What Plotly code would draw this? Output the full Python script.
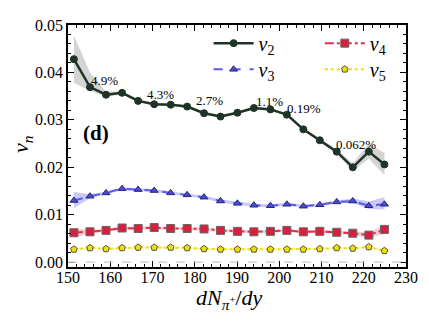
import plotly.graph_objects as go

# multiplicity bins
x = [151.4, 155.2, 159.0, 162.8, 166.6, 170.4, 174.3, 178.2, 182.2, 186.1,
     190.1, 194.0, 197.9, 201.8, 205.7, 209.6, 213.6, 217.4, 221.2, 224.9]

# v2
v2 = [0.0428, 0.0369, 0.0353, 0.0357, 0.0340, 0.0333, 0.0332, 0.0328, 0.0314, 0.0307,
      0.0315, 0.0325, 0.0322, 0.0311, 0.0280, 0.0257, 0.0233, 0.0200, 0.0233, 0.0206]
v2_hi = [0.0478, 0.0400, 0.0360, 0.0360, 0.0343, 0.0336, 0.0335, 0.0331, 0.0317, 0.0310,
         0.0318, 0.0328, 0.0325, 0.0314, 0.0283, 0.0261, 0.0238, 0.0208, 0.0250, 0.0230]
v2_lo = [0.0378, 0.0362, 0.0348, 0.0354, 0.0337, 0.0330, 0.0329, 0.0325, 0.0311, 0.0304,
         0.0312, 0.0322, 0.0319, 0.0308, 0.0277, 0.0253, 0.0228, 0.0192, 0.0218, 0.0184]

# v3
v3 = [0.0130, 0.0139, 0.0146, 0.0155, 0.0153, 0.0151, 0.0146, 0.0142, 0.0137, 0.0129,
      0.0124, 0.0120, 0.0119, 0.0122, 0.0118, 0.0121, 0.0127, 0.0129, 0.0119, 0.0122]
v3_hi = [0.0148, 0.0143, 0.0149, 0.0158, 0.0156, 0.0154, 0.0149, 0.0145, 0.0140, 0.0132,
         0.0127, 0.0123, 0.0122, 0.0125, 0.0121, 0.0124, 0.0130, 0.0134, 0.0128, 0.0137]
v3_lo = [0.0114, 0.0135, 0.0143, 0.0152, 0.0150, 0.0148, 0.0143, 0.0139, 0.0134, 0.0126,
         0.0121, 0.0117, 0.0116, 0.0119, 0.0115, 0.0118, 0.0124, 0.0124, 0.0112, 0.0111]

# v4
v4 = [0.0062, 0.0064, 0.0067, 0.0072, 0.0071, 0.0073, 0.0071, 0.0071, 0.0070, 0.0067,
      0.0065, 0.0064, 0.0065, 0.0067, 0.0064, 0.0065, 0.0063, 0.0061, 0.0057, 0.0069]
v4_hi = [0.0071, 0.0068, 0.0070, 0.0075, 0.0074, 0.0076, 0.0074, 0.0074, 0.0073, 0.0070,
         0.0068, 0.0067, 0.0068, 0.0070, 0.0067, 0.0068, 0.0066, 0.0065, 0.0062, 0.0080]
v4_lo = [0.0052, 0.0060, 0.0064, 0.0069, 0.0068, 0.0070, 0.0068, 0.0068, 0.0067, 0.0064,
         0.0062, 0.0061, 0.0062, 0.0064, 0.0061, 0.0062, 0.0060, 0.0057, 0.0052, 0.0059]

# v5
v5 = [0.0027, 0.0030, 0.0028, 0.0030, 0.0031, 0.0031, 0.0031, 0.0030, 0.0028, 0.0027,
      0.0027, 0.0027, 0.0027, 0.0027, 0.0027, 0.0028, 0.0030, 0.0029, 0.0032, 0.0024]
v5_hi = [0.0029, 0.0032, 0.0030, 0.0032, 0.0033, 0.0033, 0.0033, 0.0032, 0.0030, 0.0029,
         0.0029, 0.0029, 0.0029, 0.0029, 0.0029, 0.0030, 0.0032, 0.0031, 0.0034, 0.0026]
v5_lo = [0.0025, 0.0028, 0.0026, 0.0028, 0.0029, 0.0029, 0.0029, 0.0028, 0.0026, 0.0025,
         0.0025, 0.0025, 0.0025, 0.0025, 0.0025, 0.0026, 0.0028, 0.0027, 0.0030, 0.0022]

# percentage labels along v2
pct_text = ["4.9%", "4.3%", "2.7%", "1.1%", "0.19%", "0.062%"]
pct_x = [158.7, 171.8, 183.6, 197.6, 205.9, 218.2]
pct_y = [0.0382, 0.0354, 0.0341, 0.0339, 0.0324, 0.0248]

SERIF = "Liberation Serif"

series = [
    ("<i>v</i><sub>2</sub>", v2, v2_lo, v2_hi, "#1f3326", "solid", "circle", "#1f3326", "#1f3326", "rgba(170,170,170,0.5)", 7, 2.5, "legend"),
    ("<i>v</i><sub>3</sub>", v3, v3_lo, v3_hi, "#5a5af0", "dash", "triangle-up", "#4b4bd8", "#26266e", "rgba(110,110,240,0.38)", 7, 2, "legend2"),
    ("<i>v</i><sub>4</sub>", v4, v4_lo, v4_hi, "#e0304c", "dashdot", "square", "#d8203e", "#666666", "rgba(240,110,130,0.35)", 8, 2, "legend3"),
    ("<i>v</i><sub>5</sub>", v5, v5_lo, v5_hi, "#eedd10", "dot", "pentagon", "#eedd10", "#555533", "rgba(240,230,80,0.35)", 7, 2, "legend4"),
]

fig = go.Figure()

# bands first
for name, y, lo, hi, col, dash, sym, mfill, medge, band, ms, lw, lg in series:
    fig.add_trace(go.Scatter(x=x + x[::-1], y=hi + lo[::-1], fill="toself",
                             fillcolor=band, line=dict(width=0), mode="lines",
                             showlegend=False, hoverinfo="skip"))

for name, y, lo, hi, col, dash, sym, mfill, medge, band, ms, lw, lg in series:
    fig.add_trace(go.Scatter(x=x, y=y, name=name, mode="lines+markers",
                             line=dict(color=col, width=lw, dash=dash),
                             marker=dict(symbol=sym, size=ms, color=mfill,
                                         line=dict(color=medge, width=1)),
                             legend=lg))

fig.add_hline(y=0, line=dict(color="#cccccc", width=1.2, dash="dash"))

for t, px, py in zip(pct_text, pct_x, pct_y):
    fig.add_annotation(x=px, y=py, text=t, showarrow=False,
                       font=dict(family=SERIF, size=13, color="black"))

fig.add_annotation(x=156.7, y=0.0273, text="<b>(d)</b>", showarrow=False,
                   font=dict(family=SERIF, size=21, color="black"))

# axis titles
fig.add_annotation(xref="paper", yref="paper", x=0.479, y=-0.132,
                   xanchor="center", yanchor="middle",
                   text="<i>dN</i><sub><i>π</i><sup>+</sup></sub>/<i>dy</i>",
                   showarrow=False, font=dict(family=SERIF, size=22, color="black"))
fig.add_annotation(xref="paper", yref="paper", x=-0.136, y=0.508, textangle=-90,
                   xanchor="center", yanchor="middle",
                   text="<i>v</i><sub><i>n</i></sub>",
                   showarrow=False, font=dict(family=SERIF, size=22, color="black"))

axis_common = dict(showline=True, linecolor="black", linewidth=1.5, mirror="ticks",
                   ticks="inside", ticklen=6, tickwidth=1, tickcolor="black",
                   showgrid=False, zeroline=False,
                   tickfont=dict(family=SERIF, size=16, color="black"))

fig.update_xaxes(range=[150, 230], dtick=10, ticklabelstandoff=-5,
                 minor=dict(ticks="inside", dtick=2, ticklen=3, tickcolor="black"),
                 **axis_common)
fig.update_yaxes(range=[-0.00102, 0.05], dtick=0.01, tickformat=".2f",
                 minor=dict(ticks="inside", dtick=0.002, ticklen=3, tickcolor="black"),
                 **axis_common)

legend_common = dict(bgcolor="rgba(0,0,0,0)", font=dict(family=SERIF, size=20, color="black"),
                     itemwidth=40, yanchor="middle", xanchor="left")
fig.update_layout(
    width=421, height=314,
    margin=dict(l=60, r=23, t=9, b=55),
    plot_bgcolor="white", paper_bgcolor="white",
    legend=dict(x=0.416, y=0.925, **legend_common),
    legend2=dict(x=0.416, y=0.817, **legend_common),
    legend3=dict(x=0.745, y=0.925, **legend_common),
    legend4=dict(x=0.745, y=0.817, **legend_common),
)

fig.write_html("out.html")
